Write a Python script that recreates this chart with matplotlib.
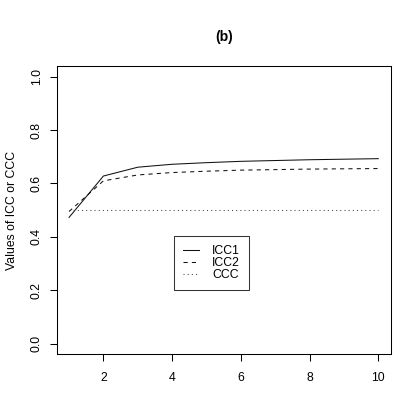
import matplotlib
matplotlib.use('Agg')
import matplotlib.pyplot as plt

plt.rcParams['font.family'] = ['Liberation Sans', 'DejaVu Sans']

# values
k = [1, 2, 3, 4, 5, 6, 7, 8, 9, 10]
icc1 = [0.473, 0.628, 0.661, 0.672, 0.678, 0.683, 0.686, 0.689, 0.691, 0.693]
icc2 = [0.495, 0.610, 0.632, 0.641, 0.646, 0.650, 0.652, 0.654, 0.655, 0.656]
ccc = [0.5, 0.5, 0.5, 0.5, 0.5, 0.5, 0.5, 0.5, 0.5, 0.5]

fig = plt.figure(figsize=(3.95, 4.0), dpi=100)
ax = fig.add_axes([0.1435, 0.114, 0.8455, 0.721])

ax.plot(k, icc1, color='#111111', lw=0.75, linestyle='-', label='ICC1')
ax.plot(k, icc2, color='#111111', lw=0.75, linestyle=(0, (4, 4)), label='ICC2')
ax.plot(k, ccc, color='#444444', lw=0.75, linestyle=(0, (1, 3)), label='CCC')

ax.set_xlim(0.64, 10.36)
ax.set_ylim(-0.04, 1.04)
ax.set_xticks([2, 4, 6, 8, 10])
ax.set_yticks([0.0, 0.2, 0.4, 0.6, 0.8, 1.0])
ax.set_yticklabels(['0.0', '0.2', '0.4', '0.6', '0.8', '1.0'], rotation=90, va='center')
ax.tick_params(direction='out', length=5, width=0.75, labelsize=8.8)
ax.tick_params(axis='x', pad=8)
ax.tick_params(axis='y', pad=5)
for s in ax.spines.values():
    s.set_linewidth(0.75)

ax.set_ylabel('Values of ICC or CCC', fontsize=8.8, labelpad=9)
ax.set_title('(b)', fontsize=10, fontweight='bold', pad=18)

leg = ax.legend(loc='upper left', bbox_to_anchor=(4.05, 0.403),
                bbox_transform=ax.transData, fontsize=8.8, frameon=True,
                fancybox=False, edgecolor='black', handlelength=1.3,
                borderpad=0.75, labelspacing=0.0, handletextpad=1.1,
                borderaxespad=0)
leg.get_frame().set_linewidth(0.75)

fig.savefig('out.png', dpi=100)
